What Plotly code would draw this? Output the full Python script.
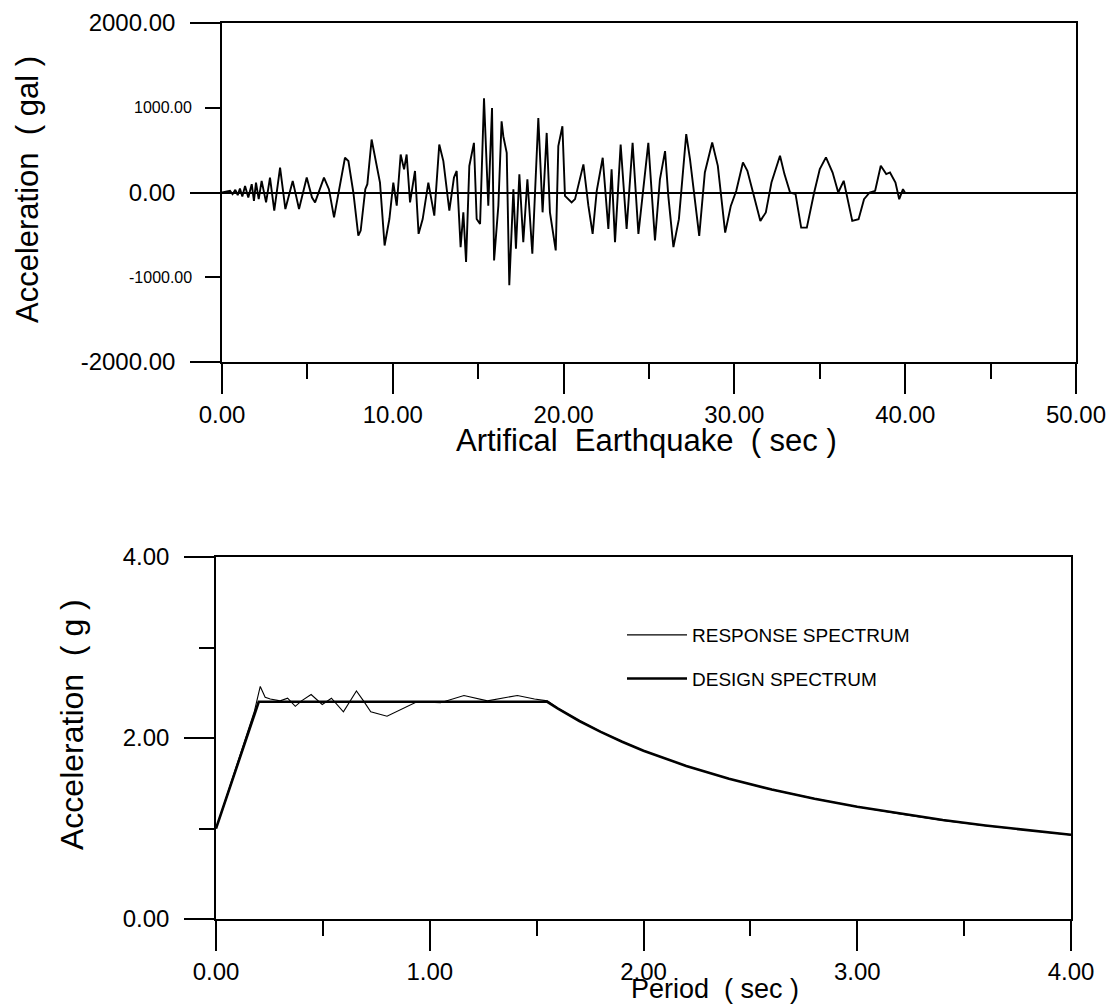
import plotly.graph_objects as go

# ---------------- data ----------------
# Artificial earthquake acceleration time history (sec, gal) - digitized extremes
eq_time = [0.0, 0.47, 0.62, 0.78, 0.92, 1.05, 1.19, 1.35, 1.54, 1.74, 1.87, 1.99, 2.15, 2.32, 2.58,
           2.81, 3.06, 3.40, 3.71, 4.14, 4.51, 4.96, 5.27, 5.45, 5.97, 6.26, 6.56, 6.91, 7.20, 7.40,
           7.69, 7.98, 8.12, 8.39, 8.51, 8.76, 8.96, 9.25, 9.52, 9.80, 10.03, 10.23, 10.46, 10.66,
           10.81, 11.01, 11.30, 11.51, 11.75, 12.08, 12.43, 12.72, 12.96, 13.31, 13.58, 13.74, 13.97,
           14.13, 14.29, 14.48, 14.75, 14.91, 15.11, 15.34, 15.59, 15.81, 15.93, 16.18, 16.37, 16.47,
           16.67, 16.82, 17.06, 17.21, 17.41, 17.64, 17.88, 18.17, 18.52, 18.77, 19.01, 19.20, 19.54,
           19.69, 19.93, 20.08, 20.47, 20.67, 21.16, 21.45, 21.70, 21.94, 22.29, 22.62, 22.81, 23.01,
           23.34, 23.69, 24.04, 24.38, 24.96, 25.35, 25.64, 25.94, 26.13, 26.43, 26.75, 27.18, 27.40,
           27.62, 27.94, 28.27, 28.70, 29.03, 29.46, 29.79, 30.11, 30.50, 30.76, 31.09, 31.52, 31.84,
           32.17, 32.67, 32.93, 33.26, 33.58, 33.91, 34.24, 34.67, 35.00, 35.36, 35.75, 36.08, 36.40,
           36.90, 37.27, 37.59, 37.92, 38.24, 38.57, 38.89, 39.11, 39.43, 39.65, 39.87, 39.98]
eq_accel = [0, 20, -20, 31, -31, 47, -47, 78, -59, 98, -98, 117, -78, 137, -117,
            176, -215, 293, -195, 137, -195, 176, -59, -117, 176, 39, -293, 78, 410, 371,
            0, -508, -449, 39, 98, 625, 430, 117, -625, -313, 117, -156, 449, 273,
            449, -117, 254, -488, -313, 117, -273, 566, 371, -215, 176, 254, -645,
            -234, -820, 313, 586, -313, -371, 1113, -156, 996, -801, -156, 840, 664,
            469, -1094, 39, -664, 215, -586, 156, -723, 879, -234, 703, -234, -684,
            547, 781, -39, -117, -78, 332, -156, -488, 20, 410, -430, 273, -586,
            566, -430, 586, -488, 586, -566, 156, 488, -39, -645, -315, 690, 394,
            0, -512, 236, 591, 315, -473, -158, 20, 355, 256, 0, -335, -236,
            118, 433, 217, 0, -20, -414, -414, 0, 276, 414, 236, 0, 138,
            -335, -315, -79, 0, 20, 315, 217, 236, 118, -79, 39, 0]

# Response spectrum (period sec, acceleration g)
resp_period = [0.0, 0.05, 0.10, 0.144, 0.18, 0.207, 0.23, 0.254, 0.30, 0.335, 0.371, 0.40, 0.445,
               0.497, 0.54, 0.596, 0.657, 0.69, 0.724, 0.80, 0.94, 1.05, 1.16, 1.27, 1.41, 1.49,
               1.55, 1.6, 1.7, 1.8, 1.9, 2.0, 2.2, 2.4, 2.6, 2.8, 3.0, 3.2, 3.4, 3.6, 3.8, 4.0]
resp_accel = [1.0, 1.36, 1.72, 2.05, 2.30, 2.57, 2.45, 2.43, 2.41, 2.44, 2.35, 2.41, 2.48,
              2.37, 2.44, 2.29, 2.52, 2.41, 2.29, 2.24, 2.40, 2.39, 2.47, 2.41, 2.47, 2.43,
              2.41, 2.33, 2.19, 2.07, 1.96, 1.86, 1.69, 1.55, 1.43, 1.33, 1.24, 1.16, 1.09, 1.03, 0.98, 0.93]

# Design spectrum (period sec, acceleration g)
design_period = [0.0, 0.2, 1.55, 1.6, 1.7, 1.8, 1.9, 2.0, 2.2, 2.4, 2.6, 2.8, 3.0, 3.2, 3.4, 3.6, 3.8, 4.0]
design_accel = [1.0, 2.4, 2.4, 2.325, 2.188, 2.067, 1.958, 1.86, 1.691, 1.55, 1.431, 1.329, 1.24,
                1.163, 1.094, 1.033, 0.979, 0.93]

# tick labels
top_x_ticks = [0, 10, 20, 30, 40, 50]
top_x_labels = ["0.00", "10.00", "20.00", "30.00", "40.00", "50.00"]
top_y_major = [-2000, 0, 2000]
top_y_major_labels = ["-2000.00", "0.00", "2000.00"]
top_y_minor = [-1000, 1000]
top_y_minor_labels = ["-1000.00", "1000.00"]
bot_x_ticks = [0, 1, 2, 3, 4]
bot_x_labels = ["0.00", "1.00", "2.00", "3.00", "4.00"]
bot_y_ticks = [0, 2, 4]
bot_y_labels = ["0.00", "2.00", "4.00"]

FONT = "Liberation Sans, Arial, sans-serif"
OFF = 8                      # page body margin of the browser
W, H = 1118 - OFF, 1005 - OFF


def px(x):
    return (x - OFF) / W


def py(y):
    return 1 - (y - OFF) / H


fig = go.Figure()
fig.add_trace(go.Scatter(x=eq_time, y=eq_accel, mode="lines", xaxis="x", yaxis="y",
                         line=dict(color="black", width=1.9), showlegend=False))
fig.add_trace(go.Scatter(x=resp_period, y=resp_accel, mode="lines", xaxis="x2", yaxis="y2",
                         name="RESPONSE SPECTRUM", legendgroup="a",
                         line=dict(color="black", width=1.1)))
fig.add_trace(go.Scatter(x=design_period, y=design_accel, mode="lines", xaxis="x2", yaxis="y2",
                         name="DESIGN SPECTRUM", legendgroup="b",
                         line=dict(color="black", width=2.6)))

axis_common = dict(showline=True, linecolor="black", linewidth=1.6, mirror=True,
                   showgrid=False, zeroline=False, ticks="outside", tickcolor="black",
                   tickwidth=1.6, automargin=False,
                   tickfont=dict(family=FONT, size=24, color="black"))

fig.update_layout(
    template="none",
    width=W, height=H,
    margin=dict(l=0, r=0, t=0, b=0, autoexpand=False),
    paper_bgcolor="white", plot_bgcolor="white",
    font=dict(family=FONT, color="black"),
    xaxis=dict(axis_common, domain=[px(222), px(1076)], range=[0, 50], anchor="y",
               tickmode="array", tickvals=top_x_ticks, ticktext=top_x_labels, ticklen=30,
               ticklabelstandoff=0,
               minor=dict(tickvals=[5, 15, 25, 35, 45], ticklen=15, ticks="outside",
                          tickcolor="black", tickwidth=1.6, showgrid=False)),
    yaxis=dict(axis_common, domain=[py(362), py(23)], range=[-2000, 2000], anchor="x",
               tickmode="array", tickvals=top_y_major, ticktext=top_y_major_labels, ticklen=30,
               ticklabelstandoff=10,
               zeroline=True, zerolinecolor="black", zerolinewidth=1.6,
               minor=dict(tickvals=top_y_minor, ticklen=15, ticks="outside",
                          tickcolor="black", tickwidth=1.6, showgrid=False)),
    xaxis2=dict(axis_common, domain=[px(216), px(1071)], range=[0, 4], anchor="y2",
                tickmode="array", tickvals=bot_x_ticks, ticktext=bot_x_labels, ticklen=30,
                ticklabelstandoff=0,
                minor=dict(tickvals=[0.5, 1.5, 2.5, 3.5], ticklen=15, ticks="outside",
                           tickcolor="black", tickwidth=1.6, showgrid=False)),
    yaxis2=dict(axis_common, domain=[py(919), py(557)], range=[0, 4], anchor="x2",
                tickmode="array", tickvals=bot_y_ticks, ticktext=bot_y_labels, ticklen=30,
                ticklabelstandoff=10,
                minor=dict(tickvals=[1, 3], ticklen=15, ticks="outside",
                           tickcolor="black", tickwidth=1.6, showgrid=False)),
    legend=dict(x=px(622), y=py(616), xanchor="left", yanchor="top",
                font=dict(family=FONT, size=19, color="black"),
                bgcolor="rgba(0,0,0,0)", traceorder="grouped", tracegroupgap=16,
                itemwidth=60),
)

annotations = []
# small minor labels of the top y axis
for v, lab in zip(top_y_minor, top_y_minor_labels):
    annotations.append(dict(text=lab, xref="paper", yref="y", x=px(194), y=v,
                            xanchor="right", yanchor="middle", showarrow=False,
                            font=dict(family=FONT, size=16, color="black")))
# axis titles
annotations += [
    dict(text="Acceleration  ( gal )", xref="paper", yref="paper", x=px(28), y=py(190),
         textangle=-90, showarrow=False, xanchor="center", yanchor="middle",
         font=dict(family=FONT, size=31, color="black")),
    dict(text="Artifical  Earthquake  ( sec )", xref="paper", yref="paper", x=px(646), y=py(440),
         showarrow=False, xanchor="center", yanchor="middle",
         font=dict(family=FONT, size=31, color="black")),
    dict(text="Acceleration  ( g )", xref="paper", yref="paper", x=px(72), y=py(725),
         textangle=-90, showarrow=False, xanchor="center", yanchor="middle",
         font=dict(family=FONT, size=32, color="black")),
    dict(text="Period  ( sec )", xref="paper", yref="paper", x=px(715), y=py(989),
         showarrow=False, xanchor="center", yanchor="middle",
         font=dict(family=FONT, size=27, color="black")),
]
fig.update_layout(annotations=annotations)

fig.write_html("out.html")
